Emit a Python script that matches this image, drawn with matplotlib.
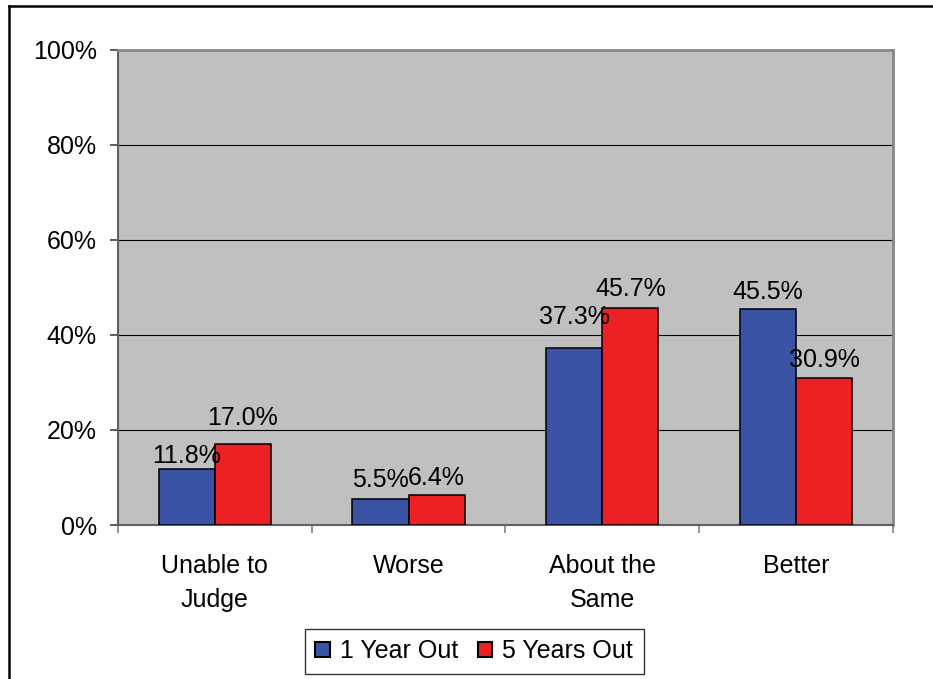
import matplotlib
matplotlib.use("Agg")
import matplotlib.pyplot as plt
from matplotlib.lines import Line2D
from matplotlib.ticker import FuncFormatter
import numpy as np

plt.rcParams['font.family'] = ['Liberation Sans', 'DejaVu Sans']

categories = ["Unable to\nJudge", "Worse", "About the\nSame", "Better"]
one_year = [11.8, 5.5, 37.3, 45.5]
five_years = [17.0, 6.4, 45.7, 30.9]
series_names = ["1 Year Out", "5 Years Out"]

# label lift above bar tops (px), Excel moved some around
offs_one = [6, 12, 24, 10]
offs_five = [19, 10, 12, 11]

blue = "#3A53A4"
red = "#ED2024"
FS = 18

fig = plt.figure(figsize=(9.33, 6.79), dpi=100)
ax = fig.add_axes([0.1265, 0.2268, 0.957 - 0.1265, 0.9264 - 0.2268])
ax.set_facecolor("#C0C0C0")

x = np.arange(len(categories))
w = 0.29
b1 = ax.bar(x - w / 2, one_year, w, color=blue, edgecolor="black", linewidth=1.1, zorder=3, label=series_names[0])
b2 = ax.bar(x + w / 2, five_years, w, color=red, edgecolor="black", linewidth=1.1, zorder=3, label=series_names[1])

for bars, vals, offs in ((b1, one_year, offs_one), (b2, five_years, offs_five)):
    for r, v, o in zip(bars, vals, offs):
        ax.annotate("%.1f%%" % v, (r.get_x() + r.get_width() / 2, v),
                    xytext=(0, o * 0.72), textcoords="offset points",
                    ha="center", va="baseline", fontsize=FS, zorder=4)

ax.set_ylim(0, 100)
ax.set_xlim(-0.5, len(categories) - 0.5)
ax.set_yticks(np.arange(0, 101, 20))
ax.yaxis.set_major_formatter(FuncFormatter(lambda v, p: "%d%%" % v))
ax.yaxis.grid(True, color="black", linewidth=0.8, zorder=1)
ax.set_axisbelow(True)

# category labels sit between boundary ticks
ax.set_xticks(np.arange(-0.5, len(categories), 1.0))
ax.set_xticklabels([])
ax.set_xticks(x, minor=True)
ax.set_xticklabels(categories, minor=True, fontsize=FS, linespacing=1.5)
ax.tick_params(axis="x", which="minor", length=0, pad=21)
ax.tick_params(axis="x", which="major", length=6, width=1.2, color="#808080", direction="out")
ax.tick_params(axis="y", length=6, width=1.2, color="#404040", labelsize=FS, pad=9.4)

for s in ("top", "right"):
    ax.spines[s].set_color("#888888")
    ax.spines[s].set_linewidth(2)
ax.spines["left"].set_color("#606060")
ax.spines["left"].set_linewidth(1.5)
ax.spines["bottom"].set_color("#606060")
ax.spines["bottom"].set_linewidth(1.5)

leg = fig.legend(loc="center", bbox_to_anchor=(474 / 933, 27.5 / 679), ncol=2, fontsize=FS,
                 frameon=True, fancybox=False, shadow=False, handlelength=0.58,
                 handleheight=0.58, handletextpad=0.4, columnspacing=0.8,
                 borderpad=0.42, borderaxespad=0)
leg.get_frame().set_edgecolor("black")
leg.get_frame().set_linewidth(1.0)
for h in leg.legend_handles:
    h.set_edgecolor("black")
    h.set_linewidth(1.5)

# outer frame, only top and left visible in the crop
fig.add_artist(Line2D([9 / 933, 9 / 933], [0, 1 - 6 / 679], color="black", linewidth=1.8, transform=fig.transFigure))
fig.add_artist(Line2D([9 / 933, 1], [1 - 6 / 679, 1 - 6 / 679], color="black", linewidth=1.8, transform=fig.transFigure))

fig.savefig("out.png", dpi=100)
